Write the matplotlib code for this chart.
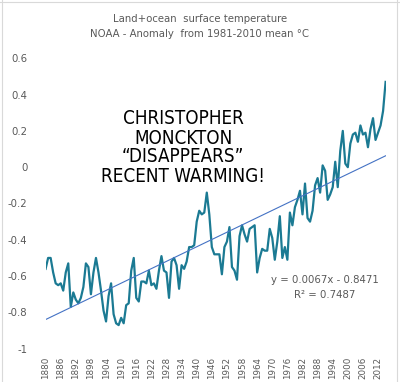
import numpy as np
import matplotlib
matplotlib.use("Agg")
import matplotlib.pyplot as plt
from matplotlib.lines import Line2D

# Annual anomalies (deg C, relative to 1981-2010)
years = list(range(1880, 2016))
anomaly = [
    -0.56, -0.50, -0.50, -0.58, -0.64, -0.65, -0.64, -0.68, -0.58, -0.53,  # 1880s
    -0.77, -0.69, -0.73, -0.75, -0.72, -0.66, -0.53, -0.55, -0.70, -0.58,  # 1890s
    -0.50, -0.58, -0.68, -0.79, -0.85, -0.71, -0.64, -0.81, -0.86, -0.87,  # 1900s
    -0.83, -0.86, -0.76, -0.75, -0.57, -0.50, -0.72, -0.74, -0.63, -0.63,  # 1910s
    -0.64, -0.57, -0.65, -0.64, -0.67, -0.57, -0.49, -0.57, -0.58, -0.72,  # 1920s
    -0.52, -0.50, -0.54, -0.67, -0.54, -0.56, -0.52, -0.44, -0.44, -0.43,  # 1930s
    -0.30, -0.24, -0.26, -0.25, -0.14, -0.26, -0.44, -0.48, -0.48, -0.48,  # 1940s
    -0.59, -0.44, -0.41, -0.33, -0.55, -0.57, -0.62, -0.38, -0.32, -0.37,  # 1950s
    -0.41, -0.34, -0.33, -0.32, -0.58, -0.50, -0.45, -0.46, -0.46, -0.34,  # 1960s
    -0.39, -0.51, -0.41, -0.27, -0.50, -0.44, -0.51, -0.25, -0.32, -0.22,  # 1970s
    -0.18, -0.13, -0.26, -0.09, -0.28, -0.30, -0.24, -0.10, -0.06, -0.14,  # 1980s
    0.01, -0.02, -0.18, -0.15, -0.11, 0.03, -0.11, 0.09, 0.20, 0.02,        # 1990s
    0.00, 0.13, 0.18, 0.19, 0.14, 0.23, 0.18, 0.19, 0.11, 0.21,             # 2000s
    0.27, 0.15, 0.19, 0.23, 0.31, 0.47,                                     # 2010s
]
tick_years = list(range(1880, 2016, 6))
y_ticks = [-1, -0.8, -0.6, -0.4, -0.2, 0, 0.2, 0.4, 0.6]
y_labels = ["-1", "-0.8", "-0.6", "-0.4", "-0.2", "0", "0.2", "0.4", "0.6"]

title_lines = ["Land+ocean  surface temperature",
               "NOAA - Anomaly  from 1981-2010 mean \u00b0C"]
note_lines = ["CHRISTOPHER", "MONCKTON", "\u201cDISAPPEARS\u201d", "RECENT WARMING!"]
eq_text = "y = 0.0067x - 0.8471"
r2_text = "R\u00b2 = 0.7487"

grey = "#595959"

fig = plt.figure(figsize=(4.0, 3.82), dpi=100)
ax = fig.add_axes([0.114, 0.0872, 0.85, 0.7602])

ax.plot(years, anomaly, color="#1b7a93", linewidth=1.6, solid_joinstyle="round")

# linear trend against the series index (as Excel does)
idx = np.arange(1, len(years) + 1)
slope, icpt = np.polyfit(idx, anomaly, 1)
ax.plot(years, slope * idx + icpt, color="#4472c4", linewidth=0.8)

ax.set_xlim(years[0], years[-1])
ax.set_ylim(-1, 0.6)
ax.set_yticks(y_ticks)
ax.set_yticklabels(y_labels)
ax.set_xticks(tick_years)
ax.set_xticklabels([str(y) for y in tick_years], rotation=90)
ax.tick_params(axis="y", length=0, pad=13, labelsize=7.3, labelcolor=grey)
ax.tick_params(axis="x", length=0, pad=6, labelsize=6.3, labelcolor=grey)
for s in ax.spines.values():
    s.set_visible(False)

# titles
fig.text(0.5, 1 - 19 / 382, title_lines[0], ha="center", va="center",
         fontsize=7.3, color=grey)
fig.text(0.5, 1 - 34 / 382, title_lines[1], ha="center", va="center",
         fontsize=7.3, color=grey)

# trend label
fig.text(325 / 400, 1 - 280 / 382, eq_text, ha="center", va="center",
         fontsize=7.3, color=grey)
fig.text(325 / 400, 1 - 295 / 382, r2_text, ha="center", va="center",
         fontsize=7.3, color=grey)

# handwritten-style note
note_y = [118, 138, 157, 177]
note_size = [13.5, 13.5, 13.5, 13.5]
for txt, yy, fs in zip(note_lines, note_y, note_size):
    fig.text(183 / 400, 1 - yy / 382, txt, ha="center", va="center",
             fontsize=fs, color="black", family="DejaVu Sans",
             fontstretch="condensed")

# light frame around the chart area
for xs, ys in [([1.5 / 400, 1.5 / 400], [0, 1]),
               ([396.5 / 400, 396.5 / 400], [0, 1]),
               ([0, 1], [1 - 1.5 / 382, 1 - 1.5 / 382])]:
    fig.add_artist(Line2D(xs, ys, color="#d9d9d9", linewidth=0.8,
                          transform=fig.transFigure))

fig.savefig("out.png", dpi=100)
